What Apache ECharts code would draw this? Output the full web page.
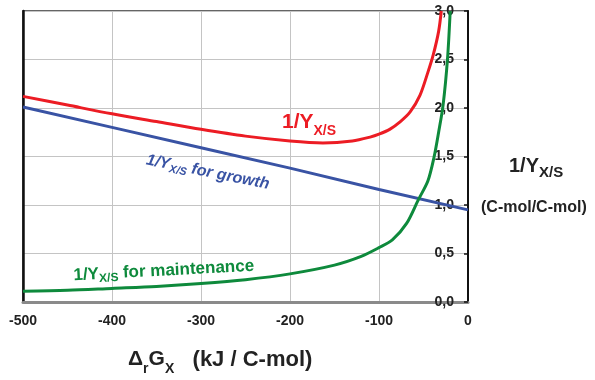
<!DOCTYPE html>
<html>
<head>
<meta charset="utf-8">
<script src="https://cdn.jsdelivr.net/npm/echarts@6/dist/echarts.min.js"></script>
<style>
html,body{margin:0;padding:0;background:#fff;}
#chart{width:595px;height:380px;}
</style>
</head>
<body>
<div id="chart"></div>
<script>
// ---- data ----
var xTickLabels = ['-500', '-400', '-300', '-200', '-100', '0'];
var yTickLabels = ['0,0', '0,5', '1,0', '1,5', '2,0', '2,5', '3,0'];

var totalX = [-500, -450, -400, -350, -300, -250, -200, -163, -130, -110, -100, -88, -76, -65, -54, -45, -39, -33, -30];
var totalY = [2.12, 2.03, 1.94, 1.86, 1.78, 1.71, 1.66, 1.64, 1.66, 1.70, 1.73, 1.78, 1.86, 1.96, 2.13, 2.37, 2.55, 2.79, 3.0];

var growthX = [-500, -400, -300, -200, -100, 0];
var growthY = [2.01, 1.80, 1.59, 1.38, 1.16, 0.95];

var maintX = [-500, -450, -400, -350, -300, -250, -200, -150, -120, -100, -85, -69, -56, -45, -38, -33, -28, -23, -20];
var maintY = [0.11, 0.12, 0.14, 0.16, 0.19, 0.23, 0.29, 0.38, 0.47, 0.56, 0.64, 0.81, 1.05, 1.25, 1.50, 1.75, 2.03, 2.51, 3.0];

function pairs(xs, ys) { return xs.map(function (x, i) { return [x, ys[i]]; }); }

var FONT = '"Liberation Sans", Arial, Helvetica, sans-serif';
var RED = '#ec1c24', BLUE = '#3953a4', GREEN = '#0e8a3c';

var chart = echarts.init(document.getElementById('chart'), null, { renderer: 'canvas' });

function subH(F, f, d) { return Math.round(d + 0.85 * F + 0.15 * f); }

function richStyles(F, f, d, color, italic) {
  var Hs = subH(F, f, d);
  var st = italic ? 'italic' : 'normal';
  return {
    m: { fontSize: F, fontWeight: 'bold', fontFamily: FONT, fill: color, color: color, lineHeight: F, verticalAlign: 'top', fontStyle: st },
    s: { fontSize: f, fontWeight: 'bold', fontFamily: FONT, fill: color, color: color, lineHeight: Hs, verticalAlign: 'bottom', fontStyle: st }
  };
}

function richText(x, y, rot, text, color, F, f, d, italic) {
  return {
    type: 'text', x: x, y: y, rotation: rot, z: 100,
    style: {
      text: text,
      align: 'left', verticalAlign: 'top',
      textAlign: 'left', textVerticalAlign: 'top',
      fill: color,
      rich: richStyles(F, f, d, color, italic)
    }
  };
}

var xTitleRich = richStyles(21, 14, 7, '#222', false);
xTitleRich.t = { fontSize: 22, fontWeight: 'bold', fontFamily: FONT, fill: '#222', lineHeight: 21, verticalAlign: 'top' };

var option = {
  animation: false,
  backgroundColor: '#fff',
  grid: { left: 23, right: 127, top: 11, bottom: 78, show: true, borderColor: '#333', borderWidth: 1.5, backgroundColor: 'transparent' },
  xAxis: {
    type: 'value', min: -500, max: 0, interval: 100,
    axisLine: { show: true, onZero: false, lineStyle: { color: '#8a8a8a', width: 3 } },
    axisTick: { show: false },
    splitLine: { show: true, lineStyle: { color: '#c4c4c4', width: 1 } },
    axisLabel: {
      margin: 12, fontSize: 14, fontWeight: 'bold', color: '#222', fontFamily: FONT,
      formatter: function (v) { return xTickLabels[Math.round((v + 500) / 100)]; }
    }
  },
  yAxis: [{
    type: 'value', position: 'right', min: 0, max: 3, interval: 0.5,
    axisLine: { show: true, lineStyle: { color: '#111', width: 2 } },
    axisTick: { show: true, inside: true, length: 4, lineStyle: { color: '#111', width: 1.5 } },
    splitLine: { show: true, lineStyle: { color: '#c4c4c4', width: 1 } },
    axisLabel: {
      inside: true, margin: 14, fontSize: 14, fontWeight: 'bold', color: '#222', fontFamily: FONT,
      formatter: function (v) { return yTickLabels[Math.round(v / 0.5)]; }
    }
  }, {
    type: 'value', position: 'left', min: 0, max: 3, interval: 0.5,
    axisLine: { show: true, lineStyle: { color: '#111', width: 2.5 } },
    axisTick: { show: false }, axisLabel: { show: false }, splitLine: { show: false }
  }],
  series: [
    { type: 'line', data: pairs(growthX, growthY), showSymbol: false, symbol: 'none', lineStyle: { color: BLUE, width: 3 }, z: 3 },
    { type: 'line', data: pairs(maintX, maintY), showSymbol: false, symbol: 'none', smooth: 0.3, lineStyle: { color: GREEN, width: 3 }, z: 4 },
    { type: 'line', data: pairs(totalX, totalY), showSymbol: false, symbol: 'none', smooth: 0.3, lineStyle: { color: RED, width: 3 }, z: 5 }
  ],
  graphic: [
    richText(282, 112, 0, '{m|1/Y}{s|X/S}', RED, 21, 14, 6, false),
    richText(148, 152, -0.2, '{m|1/Y}{s|X/S}{m| for growth}', BLUE, 16, 11, 3, true),
    richText(73, 267, 0.052, '{m|1/Y}{s|X/S}{m| for maintenance}', GREEN, 17, 12, 3, false),
    richText(509, 156, 0, '{m|1/Y}{s|X/S}', '#222', 20, 15, 5, false),
    {
      type: 'text', x: 481, y: 208, z: 100,
      style: { text: '(C-mol/C-mol)', align: 'left', verticalAlign: 'middle', textAlign: 'left', textVerticalAlign: 'middle', fill: '#222', font: 'bold 16px ' + FONT }
    },
    {
      type: 'text', x: 128, y: 349, z: 100,
      style: {
        text: '{m|Δ}{s|r}{m|G}{s|X}{t|   (kJ / C-mol)}',
        align: 'left', verticalAlign: 'top', textAlign: 'left', textVerticalAlign: 'top', fill: '#222',
        rich: xTitleRich
      }
    }
  ]
};
chart.setOption(option);
</script>
</body>
</html>
